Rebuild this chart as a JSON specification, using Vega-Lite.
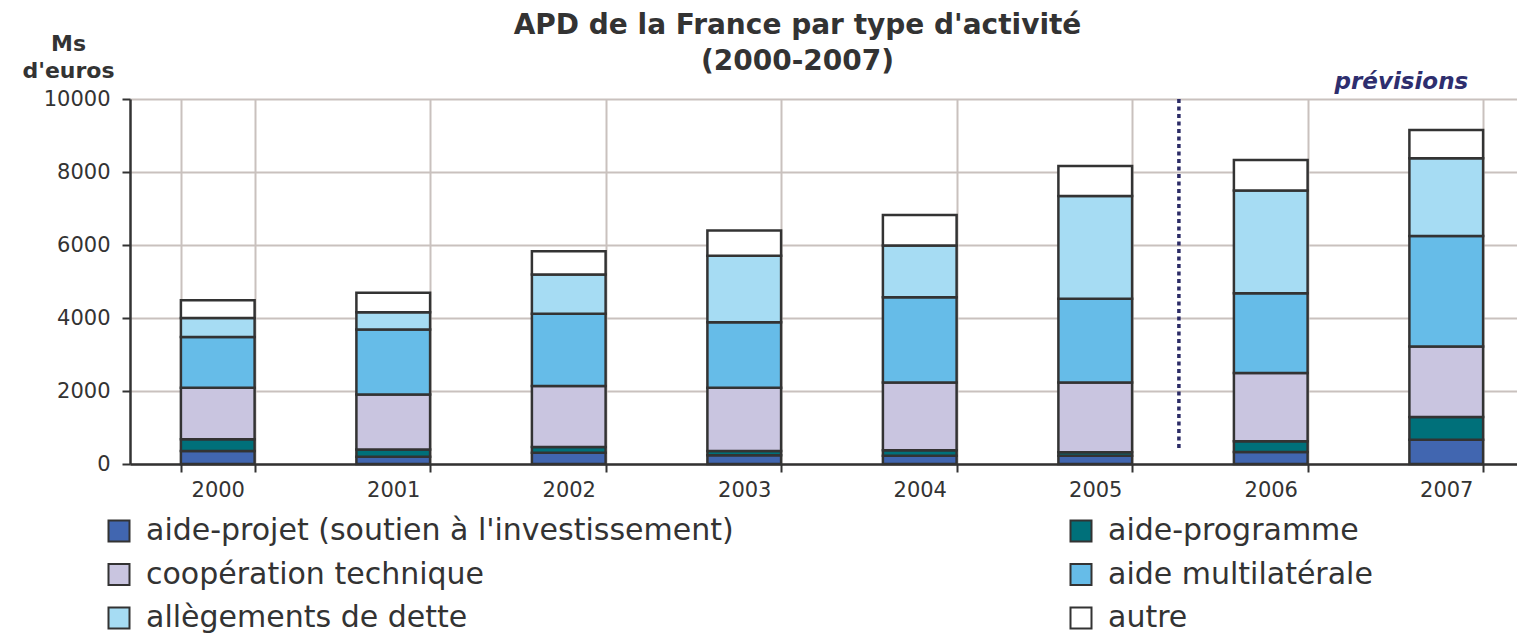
{
  "$schema": "https://vega.github.io/schema/vega-lite/v6.json",
  "width": 1387,
  "height": 365,
  "autosize": {"type": "none"},
  "padding": {"left": 130, "top": 99, "right": 0, "bottom": 170},
  "background": "white",
  "config": {"view": {"stroke": null}, "font": "DejaVu Sans"},
  "title": {
    "text": ["APD de la France par type d'activité", "(2000-2007)"],
    "font": "DejaVu Sans",
    "fontSize": 28,
    "fontWeight": "bold",
    "color": "#333333",
    "anchor": "middle",
    "frame": "group",
    "dx": -26,
    "offset": -44,
    "lineHeight": 36
  },
  "datasets": {
    "apd": [
      {"annee": "2000", "type": "aide-projet (soutien à l'investissement)", "rang": 1, "valeur": 356},
      {"annee": "2000", "type": "aide-programme", "rang": 2, "valeur": 320},
      {"annee": "2000", "type": "coopération technique", "rang": 3, "valeur": 1410},
      {"annee": "2000", "type": "aide multilatérale", "rang": 4, "valeur": 1395},
      {"annee": "2000", "type": "allègements de dette", "rang": 5, "valeur": 520},
      {"annee": "2000", "type": "autre", "rang": 6, "valeur": 485},
      {"annee": "2001", "type": "aide-projet (soutien à l'investissement)", "rang": 1, "valeur": 200},
      {"annee": "2001", "type": "aide-programme", "rang": 2, "valeur": 200},
      {"annee": "2001", "type": "coopération technique", "rang": 3, "valeur": 1505},
      {"annee": "2001", "type": "aide multilatérale", "rang": 4, "valeur": 1780},
      {"annee": "2001", "type": "allègements de dette", "rang": 5, "valeur": 475},
      {"annee": "2001", "type": "autre", "rang": 6, "valeur": 530},
      {"annee": "2002", "type": "aide-projet (soutien à l'investissement)", "rang": 1, "valeur": 310},
      {"annee": "2002", "type": "aide-programme", "rang": 2, "valeur": 155},
      {"annee": "2002", "type": "coopération technique", "rang": 3, "valeur": 1670},
      {"annee": "2002", "type": "aide multilatérale", "rang": 4, "valeur": 1980},
      {"annee": "2002", "type": "allègements de dette", "rang": 5, "valeur": 1075},
      {"annee": "2002", "type": "autre", "rang": 6, "valeur": 640},
      {"annee": "2003", "type": "aide-projet (soutien à l'investissement)", "rang": 1, "valeur": 237},
      {"annee": "2003", "type": "aide-programme", "rang": 2, "valeur": 119},
      {"annee": "2003", "type": "coopération technique", "rang": 3, "valeur": 1730},
      {"annee": "2003", "type": "aide multilatérale", "rang": 4, "valeur": 1795},
      {"annee": "2003", "type": "allègements de dette", "rang": 5, "valeur": 1825},
      {"annee": "2003", "type": "autre", "rang": 6, "valeur": 690},
      {"annee": "2004", "type": "aide-projet (soutien à l'investissement)", "rang": 1, "valeur": 228},
      {"annee": "2004", "type": "aide-programme", "rang": 2, "valeur": 146},
      {"annee": "2004", "type": "coopération technique", "rang": 3, "valeur": 1861},
      {"annee": "2004", "type": "aide multilatérale", "rang": 4, "valeur": 2336},
      {"annee": "2004", "type": "allègements de dette", "rang": 5, "valeur": 1414},
      {"annee": "2004", "type": "autre", "rang": 6, "valeur": 840},
      {"annee": "2005", "type": "aide-projet (soutien à l'investissement)", "rang": 1, "valeur": 228},
      {"annee": "2005", "type": "aide-programme", "rang": 2, "valeur": 91},
      {"annee": "2005", "type": "coopération technique", "rang": 3, "valeur": 1916},
      {"annee": "2005", "type": "aide multilatérale", "rang": 4, "valeur": 2291},
      {"annee": "2005", "type": "allègements de dette", "rang": 5, "valeur": 2819},
      {"annee": "2005", "type": "autre", "rang": 6, "valeur": 821},
      {"annee": "2006", "type": "aide-projet (soutien à l'investissement)", "rang": 1, "valeur": 328},
      {"annee": "2006", "type": "aide-programme", "rang": 2, "valeur": 292},
      {"annee": "2006", "type": "coopération technique", "rang": 3, "valeur": 1871},
      {"annee": "2006", "type": "aide multilatérale", "rang": 4, "valeur": 2190},
      {"annee": "2006", "type": "allègements de dette", "rang": 5, "valeur": 2810},
      {"annee": "2006", "type": "autre", "rang": 6, "valeur": 839},
      {"annee": "2007", "type": "aide-projet (soutien à l'investissement)", "rang": 1, "valeur": 666},
      {"annee": "2007", "type": "aide-programme", "rang": 2, "valeur": 620},
      {"annee": "2007", "type": "coopération technique", "rang": 3, "valeur": 1935},
      {"annee": "2007", "type": "aide multilatérale", "rang": 4, "valeur": 3029},
      {"annee": "2007", "type": "allègements de dette", "rang": 5, "valeur": 2126},
      {"annee": "2007", "type": "autre", "rang": 6, "valeur": 775}
    ]
  },
  "layer": [
    {
      "data": {"name": "apd"},
      "mark": {"type": "bar", "stroke": "#333333", "strokeWidth": 2.5},
      "encoding": {
        "x": {
          "field": "annee",
          "type": "nominal",
          "scale": {
            "domain": ["2000", "2001", "2002", "2003", "2004", "2005", "2006", "2007"],
            "range": [0, 1404],
            "paddingInner": 0.58,
            "paddingOuter": 0.29
          },
          "axis": {
            "title": null,
            "tickBand": "extent",
            "labelAngle": 0,
            "labelFont": "DejaVu Sans",
            "labelFontSize": 21,
            "labelColor": "#333333",
            "labelPadding": 7,
            "tickSize": 8,
            "tickColor": "#333333",
            "tickWidth": 2,
            "domainColor": "#333333",
            "domainWidth": 2.5,
            "grid": true,
            "gridColor": "#c9c1be",
            "gridWidth": 2
          }
        },
        "y": {
          "field": "valeur",
          "type": "quantitative",
          "stack": "zero",
          "scale": {"domain": [0, 10000], "nice": false},
          "axis": {
            "title": ["Ms", "d'euros"],
            "titleAngle": 0,
            "titleAlign": "center",
            "titleBaseline": "alphabetic",
            "titleX": -62,
            "titleY": -49,
            "titleFont": "DejaVu Sans",
            "titleFontSize": 22,
            "titleFontWeight": "bold",
            "titleColor": "#333333",
            "titleLineHeight": 27,
            "values": [0, 2000, 4000, 6000, 8000, 10000],
            "format": "d",
            "labelFont": "DejaVu Sans",
            "labelFontSize": 21,
            "labelColor": "#333333",
            "labelPadding": 12,
            "tickSize": 8,
            "tickColor": "#333333",
            "tickWidth": 2,
            "domainColor": "#333333",
            "domainWidth": 2.5,
            "grid": true,
            "gridColor": "#c9c1be",
            "gridWidth": 2
          }
        },
        "color": {
          "field": "type",
          "type": "nominal",
          "scale": {
            "domain": [
              "aide-projet (soutien à l'investissement)",
              "aide-programme",
              "coopération technique",
              "aide multilatérale",
              "allègements de dette",
              "autre"
            ],
            "range": ["#4166b0", "#00707a", "#c9c5e0", "#66bce8", "#a6dcf3", "#ffffff"]
          },
          "legend": {
            "orient": "none",
            "legendX": -26,
            "legendY": 417,
            "direction": "horizontal",
            "columns": 2,
            "title": null,
            "padding": 0,
            "symbolType": "square",
            "symbolSize": 441,
            "symbolStrokeColor": "#333333",
            "symbolStrokeWidth": 2,
            "symbolOpacity": 1,
            "labelFont": "DejaVu Sans",
            "labelFontSize": 30,
            "labelColor": "#333333",
            "labelLimit": 1200,
            "labelOffset": 12,
            "columnPadding": 332,
            "rowPadding": 13.5
          }
        },
        "order": {"field": "rang", "type": "quantitative"}
      }
    },
    {
      "data": {"values": [{"annee": "2006", "haut": 10000, "bas": 380}]},
      "mark": {"type": "rule", "color": "#2b2b66", "strokeWidth": 3.5, "strokeDash": [4, 3.5], "xOffset": -55},
      "encoding": {
        "x": {"field": "annee", "type": "nominal", "bandPosition": 0},
        "y": {"field": "haut", "type": "quantitative"},
        "y2": {"field": "bas"}
      }
    },
    {
      "data": {"values": [{"annee": "2007", "valeur": 10000, "texte": "prévisions"}]},
      "mark": {
        "type": "text",
        "align": "right",
        "baseline": "alphabetic",
        "dx": 22,
        "dy": -10,
        "font": "DejaVu Sans",
        "fontSize": 23,
        "fontStyle": "italic",
        "fontWeight": "bold",
        "color": "#2e2e6e"
      },
      "encoding": {
        "x": {"field": "annee", "type": "nominal"},
        "y": {"field": "valeur", "type": "quantitative"},
        "text": {"field": "texte"}
      }
    }
  ]
}
